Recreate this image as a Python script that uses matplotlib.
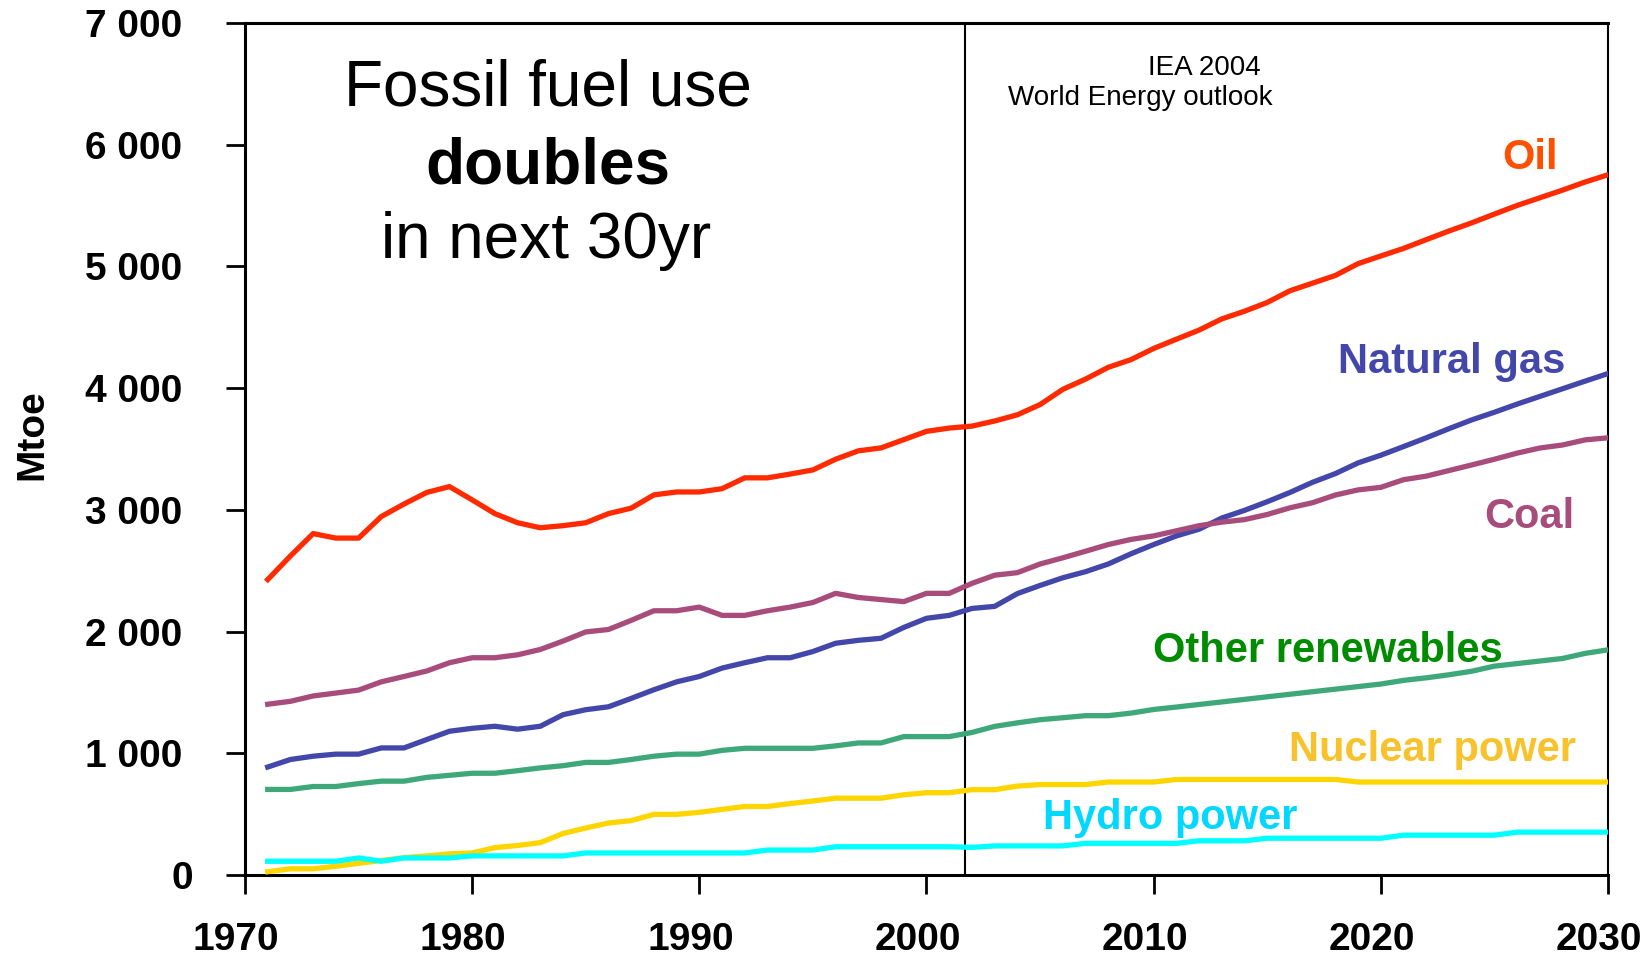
import matplotlib
matplotlib.use("Agg")
import matplotlib.pyplot as plt
from matplotlib.transforms import ScaledTranslation

plt.rcParams['font.family'] = ['Liberation Sans', 'DejaVu Sans']

W, H = 1652, 958

years = list(range(1971, 2031))

oil = [2427, 2621, 2805, 2768, 2768, 2945, 3048, 3143, 3191, 3082,
       2969, 2894, 2853, 2870, 2894, 2969, 3014, 3123, 3147, 3147,
       3174, 3263, 3263, 3294, 3328, 3416, 3485, 3509, 3577, 3645,
       3672, 3688, 3730, 3781, 3865, 3990, 4074, 4171, 4234, 4326,
       4402, 4477, 4569, 4632, 4704, 4800, 4863, 4926, 5023, 5086,
       5148, 5220, 5291, 5358, 5430, 5501, 5564, 5627, 5694, 5753]

gas = [887, 949, 976, 993, 993, 1044, 1044, 1113, 1181, 1205,
       1222, 1198, 1222, 1317, 1358, 1382, 1451, 1522, 1587, 1631,
       1700, 1744, 1785, 1785, 1836, 1904, 1928, 1945, 2034, 2109,
       2133, 2190, 2207, 2312, 2379, 2442, 2492, 2555, 2639, 2715,
       2786, 2841, 2933, 2996, 3067, 3143, 3227, 3298, 3386, 3449,
       3520, 3592, 3667, 3739, 3802, 3869, 3932, 3995, 4058, 4120]

coal = [1403, 1427, 1471, 1495, 1519, 1587, 1631, 1676, 1744, 1785,
        1785, 1809, 1853, 1922, 1997, 2017, 2092, 2171, 2171, 2201,
        2133, 2133, 2171, 2201, 2239, 2314, 2280, 2263, 2246, 2314,
        2314, 2396, 2463, 2484, 2555, 2606, 2660, 2715, 2757, 2786,
        2828, 2870, 2899, 2920, 2962, 3017, 3059, 3122, 3164, 3185,
        3248, 3277, 3323, 3369, 3416, 3466, 3508, 3533, 3575, 3592]

other = [703, 703, 727, 727, 751, 771, 771, 802, 819, 836,
         836, 857, 880, 898, 925, 925, 949, 976, 993, 993,
         1024, 1041, 1041, 1041, 1041, 1061, 1085, 1085, 1137, 1137,
         1137, 1171, 1221, 1250, 1276, 1292, 1309, 1309, 1330, 1360,
         1380, 1401, 1422, 1443, 1464, 1485, 1506, 1527, 1548, 1569,
         1599, 1620, 1645, 1674, 1716, 1737, 1758, 1779, 1821, 1850]

nuclear = [27, 51, 51, 72, 96, 119, 143, 157, 174, 181,
           225, 242, 266, 341, 386, 427, 447, 498, 498, 515,
           539, 563, 563, 587, 608, 631, 631, 631, 659, 676,
           676, 701, 701, 730, 743, 743, 743, 764, 764, 764,
           785, 785, 785, 785, 785, 785, 785, 785, 764, 764,
           764, 764, 764, 764, 764, 764, 764, 764, 764, 764]

hydro = [113, 113, 113, 113, 140, 113, 140, 140, 140, 157,
         157, 157, 157, 157, 181, 181, 181, 181, 181, 181,
         181, 181, 205, 205, 205, 232, 232, 232, 232, 232,
         232, 227, 239, 239, 239, 239, 260, 260, 260, 260,
         260, 281, 281, 281, 302, 302, 302, 302, 302, 302,
         327, 327, 327, 327, 327, 352, 352, 352, 352, 352]

xticks = [1970, 1980, 1990, 2000, 2010, 2020, 2030]
yticks = [0, 1000, 2000, 3000, 4000, 5000, 6000, 7000]
ytick_labels = ['0', '1 000', '2 000', '3 000', '4 000', '5 000', '6 000', '7 000']

# line colour, label text, label colour, label left x / baseline y (px)
series = [
    (oil, '#ff2a00', 'Oil', '#ff5000', 1502, 169),
    (gas, '#4347aa', 'Natural gas', '#4347aa', 1338, 373),
    (coal, '#a84c7c', 'Coal', '#a84c7c', 1484, 528),
    (other, '#3fa87a', 'Other renewables', '#008c00', 1153, 662),
    (nuclear, '#ffd500', 'Nuclear power', '#f8c22c', 1289, 761),
    (hydro, '#00ffff', 'Hydro power', '#00d8ff', 1043, 829),
]

fig = plt.figure(figsize=(W / 100, H / 100), dpi=100)
ax = fig.add_axes([245 / W, 1 - 875 / H, (1608 - 245) / W, (875 - 23) / H])

for vals, col, name, tcol, tx, ty in series:
    ax.plot(years, vals, color=col, lw=3.8, solid_joinstyle='round', zorder=3)
    fig.text(tx / W, 1 - ty / H, name, color=tcol, fontsize=30,
             fontweight='bold', ha='left', va='baseline')

ax.axvline(2001.7, color='black', lw=1.5, zorder=2)

ax.set_xlim(1970, 2030)
ax.set_ylim(0, 7000)
ax.set_xticks(xticks)
ax.set_yticks(yticks)
ax.set_yticklabels(ytick_labels)
ax.tick_params(axis='both', direction='out', length=14, width=2, colors='black',
               labelsize=28)
ax.tick_params(axis='x', pad=20)
ax.tick_params(axis='y', pad=31)
for lbl in ax.get_xticklabels() + ax.get_yticklabels():
    lbl.set_fontweight('bold')

# x labels sit a little left of their ticks, the y "0" a little right
for lbl in ax.get_xticklabels():
    lbl.set_transform(lbl.get_transform() + ScaledTranslation(-0.09, 0, fig.dpi_scale_trans))
ylbl0 = ax.get_yticklabels()[0]
ylbl0.set_transform(ylbl0.get_transform() + ScaledTranslation(0.11, 0, fig.dpi_scale_trans))

for s in ['left', 'bottom', 'top']:
    ax.spines[s].set_linewidth(2.2)
ax.spines['right'].set_linewidth(1.5)

fig.text(32 / W, 1 - 435 / H, 'Mtoe', rotation=90, fontsize=28, fontweight='bold',
         ha='center', va='center')

fig.text(548 / W, 1 - 106 / H, 'Fossil fuel use', fontsize=46, ha='center', va='baseline')
fig.text(548 / W, 1 - 183 / H, 'doubles', fontsize=46, fontweight='bold',
         ha='center', va='baseline')
fig.text(546 / W, 1 - 258 / H, 'in next 30yr', fontsize=46, ha='center', va='baseline')

fig.text(1148 / W, 1 - 75 / H, 'IEA 2004', fontsize=20, ha='left', va='baseline')
fig.text(1008 / W, 1 - 105 / H, 'World Energy outlook', fontsize=20, ha='left', va='baseline')

fig.savefig('out.png', dpi=100)
